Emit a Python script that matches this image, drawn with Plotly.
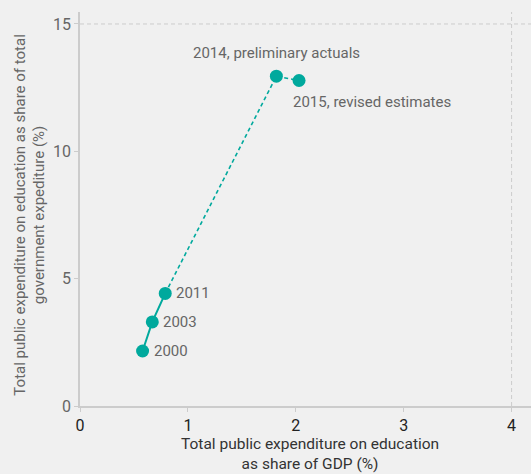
import plotly.graph_objects as go

years = ["2000", "2003", "2011", "2014", "2015"]
gdp_share = [0.58, 0.67, 0.79, 1.82, 2.03]
govt_share = [2.16, 3.30, 4.42, 12.95, 12.78]
labels = ["2000", "2003", "2011", "2014, preliminary actuals", "2015, revised estimates"]

teal = "#00a99d"
grey_txt = "#666666"
bg = "#f0f0f0"
font = "Roboto"

fig = go.Figure()

# actual years: solid
fig.add_trace(go.Scatter(x=gdp_share[:3], y=govt_share[:3], mode="lines",
                         line=dict(color=teal, width=2), hoverinfo="skip"))
# later years: dashed
fig.add_trace(go.Scatter(x=gdp_share[2:], y=govt_share[2:], mode="lines",
                         line=dict(color=teal, width=1.6, dash="4px,3px"), hoverinfo="skip"))
fig.add_trace(go.Scatter(x=gdp_share, y=govt_share, mode="markers",
                         marker=dict(color=teal, size=13), text=years))

# labels
for i in range(3):
    fig.add_annotation(x=gdp_share[i], y=govt_share[i], text=labels[i], showarrow=False,
                       xanchor="left", yanchor="middle", xshift=9,
                       font=dict(family=font, size=15, color=grey_txt))
fig.add_annotation(x=gdp_share[3], y=govt_share[3], text=labels[3], showarrow=False,
                   xanchor="center", yanchor="bottom", yshift=12,
                   font=dict(family=font, size=15, color=grey_txt))
fig.add_annotation(x=gdp_share[4], y=govt_share[4], text=labels[4], showarrow=False,
                   xanchor="left", yanchor="top", xshift=-8, yshift=-10,
                   font=dict(family=font, size=15, color=grey_txt))

# axis titles
fig.add_annotation(xref="paper", yref="paper", x=0.51, y=-0.068, yanchor="top",
                   text="Total public expenditure on education<br>as share of GDP (%)",
                   showarrow=False, font=dict(family=font, size=15.5, color="#333333"))
fig.add_annotation(xref="paper", yref="paper", x=-0.158, y=0.485, xanchor="left",
                   textangle=-90,
                   text="Total public expenditure on education as share of total<br>government expediture (%)",
                   showarrow=False, font=dict(family=font, size=15, color=grey_txt))

# dashed reference lines at the top tick values
fig.add_shape(type="line", xref="x", yref="paper", x0=4, x1=4, y0=0, y1=1,
              line=dict(color="#cccccc", width=1, dash="4px,3px"), layer="below")
fig.add_shape(type="line", xref="paper", yref="y", x0=0, x1=1, y0=15, y1=15,
              line=dict(color="#cccccc", width=1, dash="4px,3px"), layer="below")

fig.update_layout(
    width=531, height=474,
    paper_bgcolor=bg, plot_bgcolor=bg,
    showlegend=False,
    margin=dict(l=80, r=0, t=12, b=68),
    font=dict(family=font),
)
fig.update_xaxes(
    range=[0, 4.18], tickvals=[0, 1, 2, 3, 4], showgrid=False, zeroline=False,
    showline=True, linecolor="#cccccc", linewidth=1.5, automargin=False,
    ticks="outside", ticklen=4, tickcolor="#cccccc",
    tickfont=dict(family=font, size=16, color="#222222"),
)
fig.update_yaxes(
    range=[0, 15.47], tickvals=[0, 5, 10, 15], showgrid=False, zeroline=False,
    showline=True, linecolor="#cccccc", linewidth=1.5, automargin=False,
    ticks="outside", ticklen=4, tickcolor="#cccccc",
    tickfont=dict(family=font, size=16, color=grey_txt),
)

fig.write_html("out.html", config={"displayModeBar": False},
               post_script="document.body.style.margin='0';document.body.style.background='#f0f0f0';")
